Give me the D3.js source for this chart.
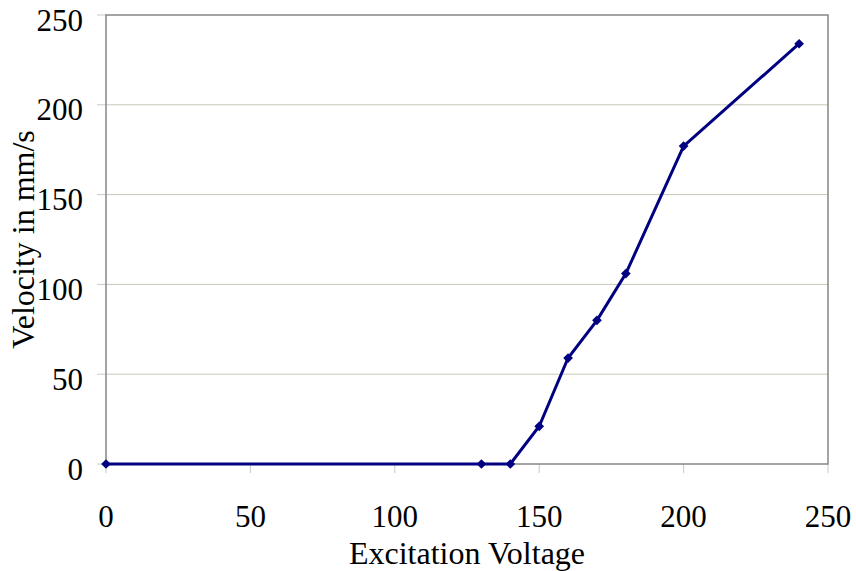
<!DOCTYPE html>
<meta charset="utf-8">
<style>
body { margin: 0; background: #fff; }
text { font-family: 'Liberation Serif', 'Times New Roman', serif; fill: #000; }
.grid line { stroke: #c8c8b8; stroke-width: 1px; }
.frame { fill: none; stroke: #868686; stroke-width: 1.5px; }
.series { fill: none; stroke: #000080; stroke-width: 3px; }
.marker { fill: #000080; }
</style>
<body>
<script src="https://d3js.org/d3.v7.min.js"></script>
<script>
var voltage = [0, 130, 140, 150, 160, 170, 180, 200, 240];
var velocity = [0, 0, 0, 21, 59, 80, 106, 177, 234];
var xTicks = [0, 50, 100, 150, 200, 250];
var yTicks = [0, 50, 100, 150, 200, 250];

var width = 856, height = 571;
var margin = {top: 15, right: 28, bottom: 107, left: 106};

var svg = d3.select("body").append("svg")
    .attr("width", width)
    .attr("height", height);

var x = d3.scaleLinear().domain([0, 250]).range([margin.left, width - margin.right]);
var y = d3.scaleLinear().domain([0, 250]).range([height - margin.bottom, margin.top]);

// gridlines
svg.append("g").attr("class", "grid")
  .selectAll("line").data(yTicks.slice(1, -1)).join("line")
    .attr("x1", x(0)).attr("x2", x(250))
    .attr("y1", d => y(d)).attr("y2", d => y(d));

// ticks
svg.append("g").selectAll("line").data(yTicks).join("line")
    .attr("x1", x(0) - 9).attr("x2", x(0))
    .attr("y1", d => y(d)).attr("y2", d => y(d))
    .attr("stroke", "#c8c8c8");
svg.append("g").selectAll("line").data(xTicks).join("line")
    .attr("x1", d => x(d)).attr("x2", d => x(d))
    .attr("y1", y(0)).attr("y2", y(0) + 9)
    .attr("stroke", "#c8c8c8");

svg.append("rect").attr("class", "frame")
    .attr("x", x(0)).attr("y", y(250))
    .attr("width", x(250) - x(0)).attr("height", y(0) - y(250));

// tick labels
svg.append("g").selectAll("text").data(yTicks).join("text")
    .attr("x", x(0) - 23).attr("y", d => y(d) + 15.5)
    .attr("text-anchor", "end")
    .style("font-size", "31px")
    .text(d => d);
svg.append("g").selectAll("text").data(xTicks).join("text")
    .attr("x", d => x(d)).attr("y", 527)
    .attr("text-anchor", "middle")
    .style("font-size", "31px")
    .text(d => d);

// axis titles
svg.append("text")
    .attr("x", (x(0) + x(250)) / 2).attr("y", 564)
    .attr("text-anchor", "middle")
    .style("font-size", "32px")
    .text("Excitation Voltage");
svg.append("text")
    .attr("transform", "translate(34," + ((y(0) + y(250)) / 2) + ") rotate(-90)")
    .attr("text-anchor", "middle")
    .style("font-size", "32px")
    .text("Velocity in mm/s");

// series
var pts = voltage.map((v, i) => [v, velocity[i]]);
svg.append("path").datum(pts).attr("class", "series")
    .attr("d", d3.line().x(d => x(d[0])).y(d => y(d[1])));
svg.append("g").selectAll("path").data(pts).join("path")
    .attr("class", "marker")
    .attr("transform", d => "translate(" + x(d[0]) + "," + y(d[1]) + ")")
    .attr("d", d3.symbol(d3.symbolDiamond2, 60));
</script>
</body>
